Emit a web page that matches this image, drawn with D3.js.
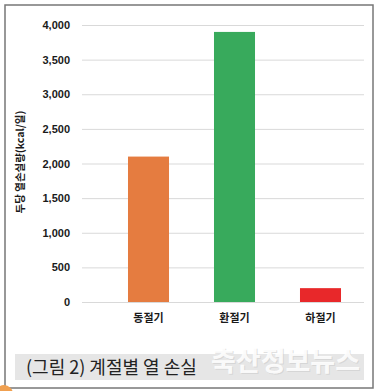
<!DOCTYPE html>
<html>
<head>
<meta charset="utf-8">
<script src="https://cdn.jsdelivr.net/npm/d3@7"></script>
<style>
  body { margin: 0; background: #fff; }
  svg { display: block; font-family: "Noto Sans CJK KR", "Noto Sans", sans-serif; }
</style>
</head>
<body>
<div id="chart"></div>
<script>
const categories = ["동절기", "환절기", "하절기"];
const values = [2100, 3900, 200];
const barColors = ["#e57c40", "#38aa5c", "#e8282a"];
const yTicks = [0, 500, 1000, 1500, 2000, 2500, 3000, 3500, 4000];

const width = 378;
const height = 391;
const margin = { top: 25, right: 14, bottom: 89, left: 82 };

const svg = d3.select("#chart")
  .append("svg")
  .attr("width", width)
  .attr("height", height);

// outer frame
svg.append("rect")
  .attr("x", 5).attr("y", 5)
  .attr("width", 368).attr("height", 383)
  .attr("fill", "#fff")
  .attr("stroke", "#777")
  .attr("stroke-width", 1.5);

// bars sit a bit right of the plot centre, like the original
const x = d3.scaleBand()
  .domain(categories)
  .range([85, 384])
  .paddingInner(0.523)
  .paddingOuter(0.5);

const y = d3.scaleLinear()
  .domain([0, 4000])
  .range([height - margin.bottom, margin.top]);

// gridlines + tick labels
const yAxis = svg.append("g")
  .attr("transform", `translate(${margin.left},0)`)
  .call(d3.axisLeft(y).tickValues(yTicks).tickFormat(d3.format(",")).tickSize(-(width - margin.left - margin.right)).tickPadding(12));
yAxis.select(".domain").remove();
yAxis.selectAll(".tick line").attr("stroke", "#d9d9d9").attr("stroke-width", 1);
yAxis.selectAll(".tick text")
  .attr("fill", "#1a1a1a")
  .style("font-size", "11px")
  .style("font-weight", "bold");

// bars
svg.append("g")
  .selectAll("rect")
  .data(values)
  .join("rect")
  .attr("x", (d, i) => x(categories[i]))
  .attr("y", (d) => y(d))
  .attr("width", x.bandwidth())
  .attr("height", (d) => y(0) - y(d))
  .attr("fill", (d, i) => barColors[i]);

// category labels
svg.append("g")
  .selectAll("text")
  .data(categories)
  .join("text")
  .attr("x", (d) => x(d) + x.bandwidth() / 2)
  .attr("y", y(0) + 20)
  .attr("text-anchor", "middle")
  .style("font-size", "11px")
  .style("font-weight", "bold")
  .attr("fill", "#1a1a1a")
  .text((d) => d);

// y axis title
svg.append("text")
  .attr("transform", `translate(24,162) rotate(-90)`)
  .attr("text-anchor", "middle")
  .style("font-size", "10.5px")
  .style("font-weight", "bold")
  .attr("fill", "#1a1a1a")
  .text("두당 열손실량(kcal/일)");

// caption band
svg.append("rect")
  .attr("x", 15).attr("y", 354)
  .attr("width", 349).attr("height", 26)
  .attr("fill", "#e6e6e6");

svg.append("text")
  .attr("x", 26).attr("y", 374)
  .style("font-size", "18px")
  .attr("fill", "#222")
  .text("(그림 2) 계절별 열 손실");

// watermark with faint shadow
const wm = "축산정보뉴스";
svg.append("text")
  .attr("x", 361).attr("y", 372)
  .attr("text-anchor", "end")
  .style("font-size", "27px")
  .style("font-weight", "bold")
  .attr("fill", "#ccc")
  .attr("fill-opacity", 0.6)
  .text(wm);
svg.append("text")
  .attr("x", 360).attr("y", 371)
  .attr("text-anchor", "end")
  .style("font-size", "27px")
  .style("font-weight", "bold")
  .attr("fill", "#fff")
  .attr("fill-opacity", 0.9)
  .text(wm);

// small orange corner mark
svg.append("circle")
  .attr("cx", 4).attr("cy", 394)
  .attr("r", 9)
  .attr("fill", "#f0a050");
</script>
</body>
</html>
